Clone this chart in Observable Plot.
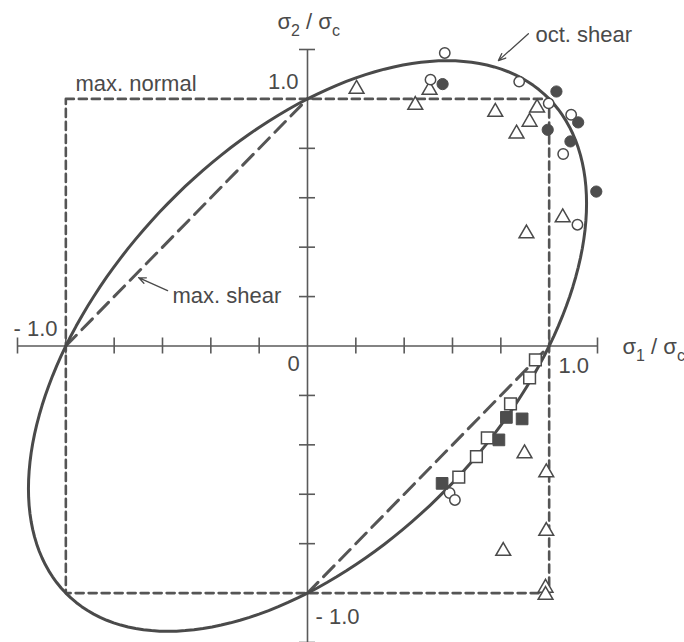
<!DOCTYPE html>
<html>
<head>
<meta charset="utf-8">
<script src="https://cdn.jsdelivr.net/npm/d3@7"></script>
<script src="https://cdn.jsdelivr.net/npm/@observablehq/plot@0.6"></script>
<style>
  body { margin: 0; background: #fff; }
</style>
</head>
<body>
<div id="chart"></div>
<script>
// Biaxial strength test results, both principal stresses normalised by the
// uniaxial compressive strength σc.  Pairs are [σ1/σc, σ2/σc].
const openCircles = [
  [0.568, 1.186], [0.509, 1.078], [0.876, 1.070], [0.998, 0.982],
  [1.091, 0.936], [1.058, 0.777], [1.117, 0.491],
  [0.588, -0.595], [0.610, -0.623]
];
const filledCircles = [
  [0.559, 1.060], [1.030, 1.030], [1.120, 0.905],
  [0.994, 0.875], [1.088, 0.828], [1.195, 0.625]
];
const openTriangles = [
  [0.203, 1.040], [0.505, 1.036], [0.446, 0.975], [0.777, 0.947],
  [0.950, 0.964], [0.919, 0.907], [0.865, 0.859], [1.056, 0.520],
  [0.906, 0.455], [0.898, -0.435], [0.988, -0.512], [0.988, -0.749],
  [0.810, -0.830], [0.985, -0.979], [0.985, -1.008]
];
const openSquares = [
  [0.943, -0.056], [0.919, -0.129], [0.840, -0.234],
  [0.744, -0.372], [0.699, -0.448], [0.626, -0.531]
];
const filledSquares = [
  [0.823, -0.289], [0.888, -0.295], [0.792, -0.380], [0.557, -0.556]
];

// tick positions along both axes (the ±1.2 ones close the axis lines)
const axisTicks = [-1.2, -1.0, -0.8, -0.6, -0.4, -0.2, 0.2, 0.4, 0.6, 0.8, 1.0, 1.2];

// maximum normal stress criterion: |σ1|, |σ2| ≤ σc
const maxNormal = [[-1, 1], [1, 1], [1, -1], [-1, -1], [-1, 1]];
// maximum shear stress criterion: the two sloping sides of the hexagon
const maxShear = [
  [[-1, 0], [0, 1]],
  [[0, -1], [1, 0]]
];
// octahedral shear stress criterion: σ1² − σ1σ2 + σ2² = σc²
const octShear = d3.range(0, 361, 2).map(deg => {
  const t = deg * Math.PI / 180;
  return [Math.cos(t) - Math.sin(t) / Math.sqrt(3), Math.cos(t) + Math.sin(t) / Math.sqrt(3)];
});

const ink = "#4a4a4a";
const solid = "#4d4d4d";
const font = "'Liberation Sans', Arial, Helvetica, sans-serif";
const M = {top: 49, right: 87, bottom: 0, left: 17};

// text placed by pixel position of its baseline
function label(txt, px, py, anchor = "start") {
  return Plot.text([txt], {
    text: d => d,
    frameAnchor: "top-left",
    dx: px - M.left,
    dy: py - M.top,
    textAnchor: anchor,
    lineAnchor: "bottom",
    fontSize: 22,
    fill: ink
  });
}

const pt = {x: d => d[0], y: d => d[1]};

const svg = Plot.plot({
  width: 684,
  height: 642,
  marginTop: M.top,
  marginRight: M.right,
  marginBottom: M.bottom,
  marginLeft: M.left,
  x: {domain: [-1.2, 1.2], axis: null},
  y: {domain: [-1.2, 1.2], axis: null},
  style: {fontFamily: font, background: "#fff", overflow: "visible"},
  marks: [
    // axes through the origin
    Plot.ruleY([0], {x1: -1.2, x2: 1.2, stroke: "#5a5a5a", strokeWidth: 1.6}),
    Plot.ruleX([0], {y1: -1.2, y2: 1.2, stroke: "#5a5a5a", strokeWidth: 1.6}),
    Plot.ruleX(axisTicks, {x: d => d, y1: 0, y2: 0, insetTop: -8, insetBottom: -8, stroke: "#5a5a5a", strokeWidth: 1.6}),
    Plot.ruleY(axisTicks, {y: d => d, x1: 0, x2: 0, insetLeft: -8, insetRight: -8, stroke: "#5a5a5a", strokeWidth: 1.6}),

    // failure criteria
    Plot.line(maxNormal, {...pt, stroke: "#555", strokeWidth: 2.6, strokeDasharray: "8,5"}),
    ...maxShear.map(seg => Plot.line(seg, {...pt, stroke: "#555", strokeWidth: 3, strokeDasharray: "15,8"})),
    Plot.line(octShear, {...pt, stroke: ink, strokeWidth: 3}),

    // test results
    Plot.dot(openTriangles, {...pt, symbol: "triangle", r: 5.5, fill: "#fff", stroke: ink, strokeWidth: 1.5}),
    Plot.dot(openCircles, {...pt, symbol: "circle", r: 5.2, fill: "#fff", stroke: ink, strokeWidth: 1.5}),
    Plot.dot(filledCircles, {...pt, symbol: "circle", r: 5.6, fill: solid, stroke: solid, strokeWidth: 1}),
    Plot.dot(openSquares, {...pt, symbol: "square", r: 6.6, fill: "#fff", stroke: ink, strokeWidth: 1.5}),
    Plot.dot(filledSquares, {...pt, symbol: "square", r: 6.6, fill: solid, stroke: solid, strokeWidth: 1}),

    // annotation arrows
    Plot.arrow([[0.914, 1.264, 0.790, 1.155]], {x1: d => d[0], y1: d => d[1], x2: d => d[2], y2: d => d[3],
      stroke: ink, strokeWidth: 1.3, headLength: 9, headAngle: 45}),
    Plot.arrow([[-0.579, 0.224, -0.699, 0.277]], {x1: d => d[0], y1: d => d[1], x2: d => d[2], y2: d => d[3],
      stroke: ink, strokeWidth: 1.3, headLength: 9, headAngle: 45}),

    // labels
    label("σ_2 / σ_c", 277, 28),
    label("σ_1 / σ_c", 622, 353),
    label("oct. shear", 535, 41),
    label("max. normal", 75, 90),
    label("max. shear", 172, 302),
    label("1.0", 298, 88, "end"),
    label("1.0", 558, 372),
    label("- 1.0", 13, 335),
    label("- 1.0", 315, 623),
    label("0", 293, 370, "middle")
  ]
});

// render "_x" as a subscript x
d3.select(svg).selectAll("text").each(function () {
  const s = this.textContent;
  if (!s.includes("_")) return;
  this.textContent = "";
  const parts = s.split(/_(\w)/);
  let shifted = false;
  parts.forEach((p, i) => {
    if (!p) return;
    const t = d3.select(this).append("tspan").text(p);
    if (i % 2 === 1) {
      t.attr("font-size", "16px").attr("dy", shifted ? 0 : 7);
      shifted = true;
    } else if (shifted) {
      t.attr("dy", -7);
      shifted = false;
    }
  });
});

document.getElementById("chart").appendChild(svg);
</script>
</body>
</html>
